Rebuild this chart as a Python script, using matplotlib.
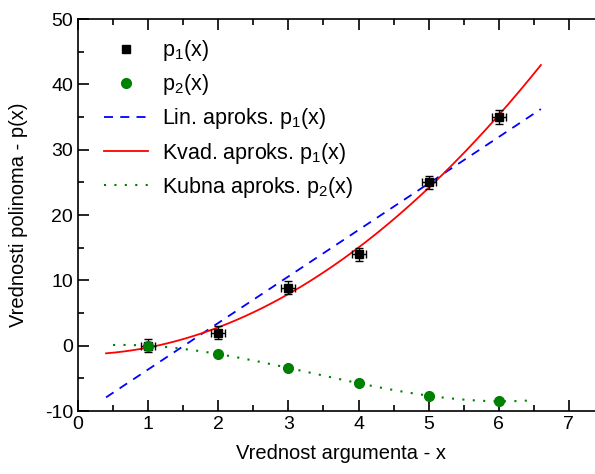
#!/usr/bin/python

import numpy as np
import matplotlib as mpl
mpl.use('Agg')
import matplotlib.pyplot as plt
from matplotlib.ticker import MultipleLocator

# measured points
x_points = [1, 2, 3, 4, 5, 6]
p1_values = [0.0, 2.0, 8.9, 14.0, 25.0, 35.0]
p2_values = [0.0, -1.3, -3.4, -5.7, -7.7, -8.5]
p1_xerr = 0.1
p1_yerr = 1.0

# ranges over which the fitted curves are drawn
fit_range_p1 = (0.4, 6.6)
fit_range_p2 = (0.5, 6.5)

plt.rcParams['font.family'] = ['Liberation Sans', 'DejaVu Sans']
plt.rcParams['mathtext.fontset'] = 'custom'
plt.rcParams['mathtext.rm'] = 'Liberation Sans'
plt.rcParams['mathtext.it'] = 'Liberation Sans:italic'
plt.rcParams['axes.unicode_minus'] = False

fig = plt.figure(figsize=(5.95, 4.74), dpi=100)
ax = fig.add_axes([78 / 595, 63 / 474, (604 - 78) / 595, (411 - 19) / 474])

xs1 = np.linspace(fit_range_p1[0], fit_range_p1[1], 200)
xs2 = np.linspace(fit_range_p2[0], fit_range_p2[1], 200)
lin = np.polyfit(x_points, p1_values, 1)
kvad = np.polyfit(x_points, p1_values, 2)
kub = np.polyfit(x_points, p2_values, 3)

ax.errorbar(x_points, p1_values, xerr=p1_xerr, yerr=p1_yerr, fmt='none',
            ecolor='black', elinewidth=1.0, capsize=3, capthick=1.0, zorder=3)
h1, = ax.plot(x_points, p1_values, 's', color='black', markersize=6,
              linestyle='none', zorder=4)
h2, = ax.plot(x_points, p2_values, 'o', color='#008000', markersize=7,
              linestyle='none', zorder=5)
h3, = ax.plot(xs1, np.polyval(lin, xs1), '--', color='#0000FF', linewidth=1.3,
              dashes=(5, 4))
h4, = ax.plot(xs1, np.polyval(kvad, xs1), '-', color='#FF0000', linewidth=1.3)
h5, = ax.plot(xs2, np.polyval(kub, xs2), ':', color='#008000', linewidth=1.5,
              dashes=(1, 4))

ax.set_xlim(0, 7.5)
ax.set_ylim(-10, 50)
ax.xaxis.set_major_locator(MultipleLocator(1))
ax.xaxis.set_minor_locator(MultipleLocator(0.5))
ax.yaxis.set_major_locator(MultipleLocator(10))
ax.yaxis.set_minor_locator(MultipleLocator(5))
ax.tick_params(which='both', direction='in', top=True, right=False,
               labelsize=14, width=1.2)
ax.tick_params(which='major', length=8)
ax.tick_params(which='minor', length=4)
for s in ax.spines.values():
    s.set_linewidth(1.2)

ax.set_xlabel('Vrednost argumenta - x', fontsize=14.5, labelpad=8)
ax.set_ylabel('Vrednosti polinoma - p(x)', fontsize=14.5, labelpad=12)

leg = ax.legend([h1, h2, h3, h4, h5],
                ['p$\\mathregular{_1}$(x)', 'p$\\mathregular{_2}$(x)',
                 'Lin. aproks. p$\\mathregular{_1}$(x)',
                 'Kvad. aproks. p$\\mathregular{_1}$(x)',
                 'Kubna aproks. p$\\mathregular{_2}$(x)'],
                loc='upper left', bbox_to_anchor=(0.012, 1.0), frameon=False,
                fontsize=15.5, handlelength=2.05, handletextpad=0.65,
                labelspacing=0.42)

fig.savefig('out.png')
